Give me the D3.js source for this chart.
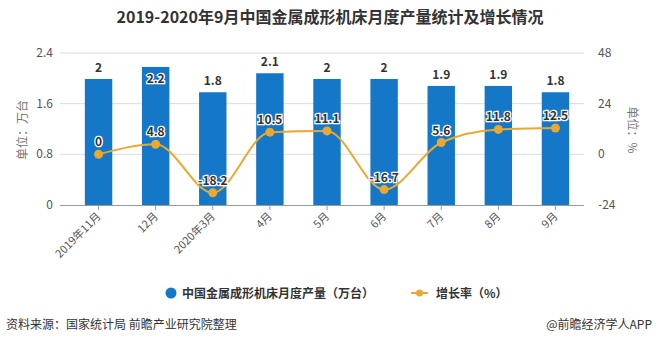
<!DOCTYPE html>
<html>
<head>
<meta charset="utf-8">
<script src="https://cdn.jsdelivr.net/npm/d3@7"></script>
<style>
  body { margin: 0; background: #fff; }
  svg { font-family: "Microsoft YaHei", "Noto Sans CJK SC", sans-serif; }
</style>
</head>
<body>
<svg id="chart" width="657" height="345"></svg>
<script>
const months = ['2019年11月', '12月', '2020年3月', '4月', '5月', '6月', '7月', '8月', '9月'];
const output = [1.99, 2.18, 1.78, 2.08, 1.99, 1.99, 1.88, 1.88, 1.78];
const growth = [0, 4.8, -18.2, 10.5, 11.1, -16.7, 5.6, 11.8, 12.5];
const leftTicks = [0, 0.8, 1.6, 2.4];
const rightTicks = [-24, 0, 24, 48];

const barColor = '#1577c8';
const lineColor = '#e9a82f';

const svg = d3.select('#chart');

let x = d3.scaleBand().domain(months).range([70, 584]).paddingInner(0.52).paddingOuter(0.26);
let yL = d3.scaleLinear().domain([0, 2.4]).range([205, 53]);
let yR = d3.scaleLinear().domain([-24, 48]).range([205, 53]);

// title
svg.append('text')
  .attr('x', 330).attr('y', 23)
  .attr('text-anchor', 'middle')
  .attr('font-size', 16).attr('font-weight', 'bold').attr('fill', '#333')
  .text('2019-2020年9月中国金属成形机床月度产量统计及增长情况');

// grid
svg.append('g').selectAll('line')
  .data(leftTicks.slice(1))
  .join('line')
  .attr('x1', 60).attr('x2', 584)
  .attr('y1', (d) => yL(d)).attr('y2', (d) => yL(d))
  .attr('stroke', '#dcdcdc').attr('stroke-width', 1);

// left axis labels
svg.append('g').selectAll('text')
  .data(leftTicks)
  .join('text')
  .attr('x', 53).attr('y', (d) => yL(d) + 4)
  .attr('text-anchor', 'end')
  .attr('font-size', 12).attr('fill', '#555')
  .text((d) => d);

svg.append('g').selectAll('text')
  .data(rightTicks)
  .join('text')
  .attr('x', 598).attr('y', (d) => yR(d) + 4)
  .attr('font-size', 12).attr('fill', '#555')
  .text((d) => d);

svg.append('text')
  .attr('transform', 'translate(27,130) rotate(-90)')
  .attr('text-anchor', 'middle')
  .attr('font-size', 12).attr('fill', '#777')
  .text('单位：万台');

svg.append('text')
  .attr('transform', 'translate(628,130) rotate(90)')
  .attr('text-anchor', 'middle')
  .attr('font-size', 12).attr('fill', '#777')
  .text('单位：%');

// bars
svg.append('g').selectAll('rect')
  .data(output)
  .join('rect')
  .attr('x', (d, i) => x(months[i]))
  .attr('y', (d) => yL(d))
  .attr('width', x.bandwidth())
  .attr('height', (d) => yL(0) - yL(d))
  .attr('fill', barColor);

// x axis
svg.append('line')
  .attr('x1', 60).attr('x2', 584)
  .attr('y1', 205.5).attr('y2', 205.5)
  .attr('stroke', '#999');

let ticks = svg.append('g').selectAll('g')
  .data(months)
  .join('g')
  .attr('transform', (d) => `translate(${x(d) + x.bandwidth() / 2},205)`);
ticks.append('line').attr('y2', 5).attr('stroke', '#999');
ticks.append('text')
  .attr('transform', 'translate(3,12) rotate(-45)')
  .attr('text-anchor', 'end')
  .attr('font-size', 11).attr('fill', '#555')
  .text((d) => d);

// bar labels
svg.append('g').selectAll('text')
  .data(output)
  .join('text')
  .attr('x', (d, i) => x(months[i]) + x.bandwidth() / 2)
  .attr('y', (d) => (yL(d) < 70 ? yL(d) + 16 : yL(d) - 7))
  .attr('text-anchor', 'middle')
  .attr('font-size', 12).attr('font-weight', 'bold')
  .attr('fill', '#333').attr('stroke', '#fff').attr('stroke-width', 2.5)
  .attr('paint-order', 'stroke')
  .text((d) => +d.toFixed(1));

// growth line
let line = d3.line()
  .x((d, i) => x(months[i]) + x.bandwidth() / 2)
  .y((d) => yR(d))
  .curve(d3.curveMonotoneX);

svg.append('path')
  .datum(growth)
  .attr('d', line)
  .attr('fill', 'none')
  .attr('stroke', lineColor).attr('stroke-width', 2);

svg.append('g').selectAll('circle')
  .data(growth)
  .join('circle')
  .attr('cx', (d, i) => x(months[i]) + x.bandwidth() / 2)
  .attr('cy', (d) => yR(d))
  .attr('r', 4.5)
  .attr('fill', lineColor);

svg.append('g').selectAll('text')
  .data(growth)
  .join('text')
  .attr('x', (d, i) => x(months[i]) + x.bandwidth() / 2)
  .attr('y', (d) => yR(d) - 8)
  .attr('text-anchor', 'middle')
  .attr('font-size', 12).attr('font-weight', 'bold')
  .attr('fill', '#333').attr('stroke', '#fff').attr('stroke-width', 2.5)
  .attr('paint-order', 'stroke')
  .text((d) => d);

// legend
let legend = svg.append('g').attr('font-size', 12).attr('font-weight', 'bold').attr('fill', '#333');
legend.append('circle').attr('cx', 171).attr('cy', 293).attr('r', 5.5).attr('fill', barColor);
legend.append('text').attr('x', 182).attr('y', 297.5).text('中国金属成形机床月度产量（万台）');
legend.append('line').attr('x1', 411).attr('x2', 428).attr('y1', 293).attr('y2', 293)
  .attr('stroke', lineColor).attr('stroke-width', 2);
legend.append('circle').attr('cx', 419.5).attr('cy', 293).attr('r', 3.5).attr('fill', lineColor);
legend.append('text').attr('x', 436).attr('y', 297.5).text('增长率（%）');

// footer
svg.append('text')
  .attr('x', 6).attr('y', 329)
  .attr('font-size', 12).attr('fill', '#333')
  .text('资料来源：国家统计局 前瞻产业研究院整理');
svg.append('text')
  .attr('x', 652).attr('y', 329)
  .attr('text-anchor', 'end')
  .attr('font-size', 12).attr('fill', '#333')
  .text('@前瞻经济学人APP');
</script>
</body>
</html>
